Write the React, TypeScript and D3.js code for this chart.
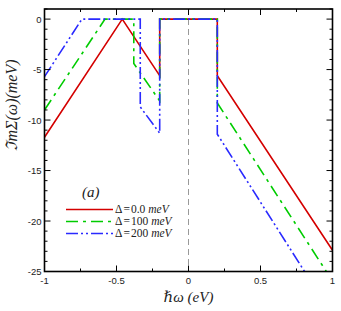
import React from 'react'
import { scaleLinear, line, range } from 'd3'

// Σ(ω) curves, one pair of arrays per gap value
const omegaD0 = [-1, -0.46, -0.2, -0.2, 0.2, 0.2, 1]
const sigmaD0 = [-11.7, 0, -5.6, 0, 0, -5.6, -22.9]

const omegaD100 = [-1, -0.58, -0.38, -0.38, -0.2, -0.2, 0.2, 0.2, 0.957]
const sigmaD100 = [-9.0, 0, 0, -4.4, -8.1, 0, 0, -8.3, -25]

const omegaD200 = [-1, -0.74, -0.335, -0.335, -0.2, -0.2, 0.2, 0.2, 0.806]
const sigmaD200 = [-5.7, 0, 0, -8.7, -11.3, 0, 0, -11.4, -25]

const seriesLabels = ['0.0', '100', '200']
const xTicks = [-1, -0.5, 0, 0.5, 1]
const yTicks = [-25, -20, -15, -10, -5, 0]

const W = 341
const H = 311
const m = { left: 44.5, right: 332.5, top: 9, bottom: 271.5 }

const series = [
  { xs: omegaD0, ys: sigmaD0, color: '#d40000', dash: null },
  { xs: omegaD100, ys: sigmaD100, color: '#00cc00', dash: '12,5,3,5' },
  { xs: omegaD200, ys: sigmaD200, color: '#2a2aff', dash: '12,3,2,3,2,3' },
]

export default function App() {
  const x = scaleLinear().domain([-1, 1]).range([m.left, m.right])
  const y = scaleLinear().domain([-25, 1]).range([m.bottom, m.top])

  const path = line<[number, number]>()
    .x(d => x(d[0]))
    .y(d => y(d[1]))

  const xMinor = range(-1, 1.001, 0.25)
  const yMinor = range(-25, 1.001, 1)
  const tickFont = '"Liberation Sans", Arial, sans-serif'
  const mathFont = '"Liberation Serif", "DejaVu Serif", serif'

  return (
    <svg width={W} height={H} style={{ position: 'absolute', left: 0, top: 0, background: '#fff' }}>
      <defs>
        <clipPath id="plot">
          <rect x={m.left} y={m.top} width={m.right - m.left} height={m.bottom - m.top} />
        </clipPath>
      </defs>

      {/* zero line */}
      <line x1={x(0)} x2={x(0)} y1={m.top} y2={m.bottom} stroke="#999" strokeWidth={1} strokeDasharray="6,4" />

      <g clipPath="url(#plot)">
        {series.map((s, i) => (
          <path
            key={i}
            d={path(s.xs.map((v, j) => [v, s.ys[j]] as [number, number])) || ''}
            fill="none"
            stroke={s.color}
            strokeWidth={1.6}
            strokeDasharray={s.dash || undefined}
            strokeLinejoin="miter"
          />
        ))}
      </g>

      {/* ticks, drawn inward */}
      {xMinor.map((t, i) => {
        const major = xTicks.some(v => Math.abs(v - t) < 1e-6)
        const len = major ? 6 : 3
        return (
          <g key={'x' + i} stroke="#000" strokeWidth={1}>
            <line x1={x(t)} x2={x(t)} y1={m.bottom} y2={m.bottom - len} />
            <line x1={x(t)} x2={x(t)} y1={m.top} y2={m.top + len} />
          </g>
        )
      })}
      {yMinor.map((t, i) => {
        const major = yTicks.includes(Math.round(t)) && Math.abs(t - Math.round(t)) < 1e-6
        const len = major ? 6 : 3
        return (
          <g key={'y' + i} stroke="#000" strokeWidth={1}>
            <line x1={m.left} x2={m.left + len} y1={y(t)} y2={y(t)} />
            <line x1={m.right} x2={m.right - len} y1={y(t)} y2={y(t)} />
          </g>
        )
      })}

      <rect x={m.left} y={m.top} width={m.right - m.left} height={m.bottom - m.top} fill="none" stroke="#000" strokeWidth={1.6} />

      {xTicks.map(t => (
        <text key={t} x={x(t)} y={m.bottom + 12} textAnchor="middle" fontSize={9.5} fontFamily={tickFont} fill="#222">
          {t}
        </text>
      ))}
      {yTicks.map(t => (
        <text key={t} x={m.left - 3} y={y(t) + 3.5} textAnchor="end" fontSize={9.5} fontFamily={tickFont} fill="#222">
          {t}
        </text>
      ))}

      <text x={x(0)} y={302} textAnchor="middle" fontSize={15} fontFamily={mathFont} fontStyle="italic" fill="#222">
        ℏω (eV)
      </text>
      <text
        transform={`translate(17,105) rotate(-90)`}
        textAnchor="middle"
        fontSize={16}
        fontFamily={mathFont}
        fontStyle="italic"
        fill="#222"
      >
        ℑmΣ(ω)(meV)
      </text>

      {/* legend */}
      <text x={82} y={197} fontSize={15} fontFamily={mathFont} fontStyle="italic" fill="#222">
        (a)
      </text>
      {series.map((s, i) => {
        const ly = 209.5 + i * 12
        return (
          <g key={'l' + i}>
            <line x1={66} x2={113} y1={ly} y2={ly} stroke={s.color} strokeWidth={1.6} strokeDasharray={s.dash || undefined} />
            <text x={115} y={ly + 3.5} fontSize={11.5} fontFamily={mathFont} fill="#222">
              Δ<tspan dx={1}>=</tspan>
              <tspan dx={1}>{seriesLabels[i]}</tspan>
              <tspan dx={3} fontStyle="italic">meV</tspan>
            </text>
          </g>
        )
      })}
    </svg>
  )
}
